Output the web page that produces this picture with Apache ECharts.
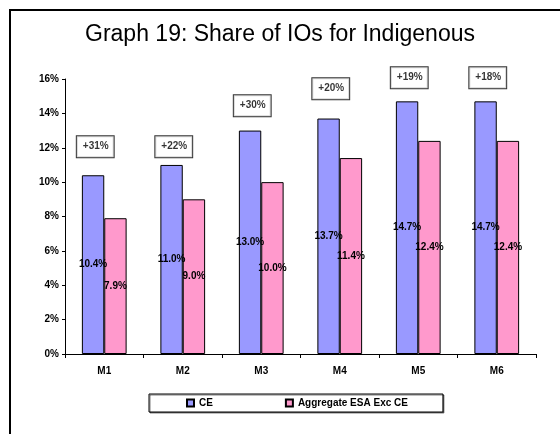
<!DOCTYPE html>
<html>
<head>
<meta charset="utf-8">
<script src="https://cdn.jsdelivr.net/npm/echarts@6/dist/echarts.min.js"></script>
<style>
  html, body { margin: 0; padding: 0; background: #fff; }
  #chart { width: 560px; height: 434px; }
</style>
</head>
<body>
<div id="chart"></div>
<script>
// categories and values (percent)
const categories = ['M1', 'M2', 'M3', 'M4', 'M5', 'M6']
const ceValues = [10.4, 11.0, 13.0, 13.7, 14.7, 14.7]
const esaValues = [7.9, 9.0, 10.0, 11.4, 12.4, 12.4]
// growth boxes above each group, and the height they sit at
const growthLabels = ['+31%', '+22%', '+30%', '+20%', '+19%', '+18%']
const growthLevels = [12.06, 12.06, 14.45, 15.44, 16.08, 16.08]
const yTicks = [0, 2, 4, 6, 8, 10, 12, 14, 16]

const font = 'Arial, "Liberation Sans", sans-serif'

const chart = echarts.init(document.getElementById('chart'))

const option = {
  backgroundColor: '#fff',
  animation: false,
  title: {
    text: 'Graph 19: Share of IOs for Indigenous',
    left: 'center',
    top: 23,
    padding: 0,
    textStyle: { fontFamily: font, fontSize: 23, fontWeight: 'normal', color: '#000' }
  },
  // outer frame of the chart area
  graphic: [{
    type: 'rect',
    shape: { x: 10, y: 10, width: 700, height: 600 },
    style: { fill: 'none', stroke: '#000', lineWidth: 2 },
    silent: true
  }],
  legend: {
    data: ['CE', 'Aggregate ESA Exc CE'],
    left: 149,
    top: 394,
    padding: [4, 35, 4, 37],
    itemGap: 72,
    itemWidth: 7,
    itemHeight: 7,
    borderColor: '#000',
    borderWidth: 1,
    backgroundColor: '#fff',
    shadowColor: 'rgba(0,0,0,0.5)',
    shadowOffsetX: 1,
    shadowOffsetY: 1,
    icon: 'rect',
    textStyle: { fontFamily: font, fontSize: 10, fontWeight: 'bold', color: '#000' }
  },
  grid: { left: 65, right: 24, top: 79, bottom: 80 },
  xAxis: {
    type: 'category',
    data: categories,
    axisLine: { lineStyle: { color: '#000', width: 1 } },
    axisTick: { show: true, length: 4, lineStyle: { color: '#000' } },
    axisLabel: { margin: 12, fontFamily: font, fontSize: 10, fontWeight: 'bold', color: '#000' }
  },
  yAxis: {
    type: 'value',
    min: yTicks[0],
    max: yTicks[yTicks.length - 1],
    interval: 2,
    splitLine: { show: false },
    axisLine: { show: true, lineStyle: { color: '#000', width: 1 } },
    axisTick: { show: true, length: 3, lineStyle: { color: '#000' } },
    axisLabel: {
      margin: 6,
      formatter: (v) => v + '%',
      fontFamily: font, fontSize: 10, fontWeight: 'bold', color: '#000'
    }
  },
  series: [
    {
      name: 'CE',
      type: 'bar',
      data: ceValues,
      barGap: '0%',
      barCategoryGap: '43%',
      itemStyle: { color: '#9999ff', borderColor: '#000', borderWidth: 1 },
      label: {
        show: true,
        position: 'inside',
        formatter: (p) => p.value.toFixed(1) + '%',
        fontFamily: font, fontSize: 10, fontWeight: 'bold', color: '#000'
      }
    },
    {
      name: 'Aggregate ESA Exc CE',
      type: 'bar',
      data: esaValues,
      itemStyle: { color: '#ff99cc', borderColor: '#000', borderWidth: 1 },
      label: {
        show: true,
        position: 'inside',
        formatter: (p) => p.value.toFixed(1) + '%',
        fontFamily: font, fontSize: 10, fontWeight: 'bold', color: '#000'
      }
    },
    {
      name: 'growth',
      type: 'scatter',
      clip: false,
      data: growthLevels,
      symbolSize: 1,
      itemStyle: { color: 'rgba(0,0,0,0)' },
      label: {
        show: true,
        position: 'inside',
        offset: [-9, 0],
        formatter: (p) => growthLabels[p.dataIndex],
        backgroundColor: '#fff',
        borderColor: '#000',
        borderWidth: 1,
        padding: [6, 5, 5, 6],
        fontFamily: font, fontSize: 10, fontWeight: 'bold', color: '#000'
      }
    }
  ]
}

chart.setOption(option)

window.addEventListener('resize', () => chart.resize())
</script>
</body>
</html>
